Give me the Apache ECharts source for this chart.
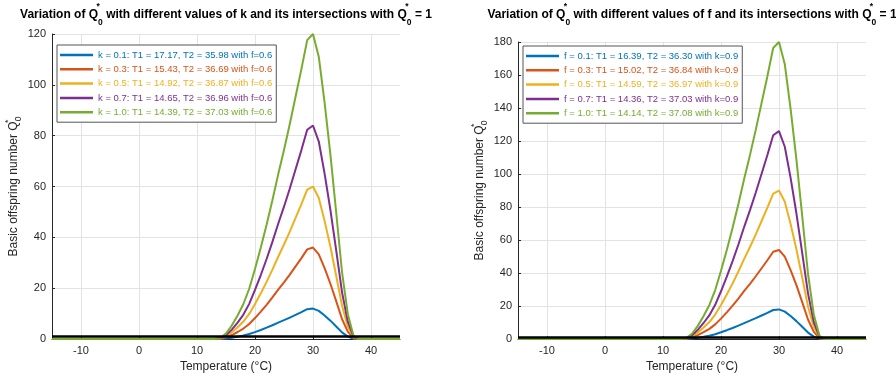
<!DOCTYPE html>
<html>
<head>
<meta charset="utf-8">
<script src="https://cdn.jsdelivr.net/npm/echarts@6/dist/echarts.min.js"></script>
<style>
html, body { margin: 0; padding: 0; background: #fff; }
#chart { width: 896px; height: 378px; }
</style>
</head>
<body>
<div id="chart"></div>
<script>
var temps = [-15, 13, 14, 15, 16, 17, 18, 19, 20, 21, 22, 23, 24, 25, 26, 27, 28, 29, 30, 31, 32, 33, 34, 35, 36, 37, 38, 45];

// left panel: varying k, f = 0.6
var kNames = [
    'k = 0.1: T1 = 17.17, T2 = 35.98 with f=0.6',
    'k = 0.3: T1 = 15.43, T2 = 36.69 with f=0.6',
    'k = 0.5: T1 = 14.92, T2 = 36.87 with f=0.6',
    'k = 0.7: T1 = 14.65, T2 = 36.96 with f=0.6',
    'k = 1.0: T1 = 14.39, T2 = 37.03 with f=0.6'
];
var qK01 = [0, 0, 0.04, 0.22, 0.53, 0.93, 1.38, 1.98, 2.76, 3.6, 4.5, 5.46, 6.48, 7.44, 8.46, 9.54, 10.62, 11.76, 12.0, 11.1, 9.3, 7.26, 4.98, 2.64, 0.98, 0.12, 0, 0];
var qK03 = [0, 0, 0.13, 0.65, 1.6, 2.79, 4.14, 5.94, 8.28, 10.8, 13.5, 16.38, 19.44, 22.32, 25.38, 28.62, 31.86, 35.28, 36.0, 33.3, 27.9, 21.78, 14.94, 7.92, 2.93, 0.36, 0, 0];
var qK05 = [0, 0, 0.21, 1.08, 2.67, 4.65, 6.9, 9.9, 13.8, 18, 22.5, 27.3, 32.4, 37.2, 42.3, 47.7, 53.1, 58.8, 60, 55.5, 46.5, 36.3, 24.9, 13.2, 4.89, 0.6, 0, 0];
var qK07 = [0, 0, 0.29, 1.51, 3.74, 6.51, 9.66, 13.86, 19.32, 25.2, 31.5, 38.22, 45.36, 52.08, 59.22, 66.78, 74.34, 82.32, 84, 77.7, 65.1, 50.82, 34.86, 18.48, 6.85, 0.84, 0, 0];
var qK10 = [0, 0, 0.42, 2.16, 5.34, 9.3, 13.8, 19.8, 27.6, 36, 45, 54.6, 64.8, 74.4, 84.6, 95.4, 106.2, 117.6, 120, 111, 93, 72.6, 49.8, 26.4, 9.78, 1.2, 0, 0];

// right panel: varying f, k = 0.9
var fNames = [
    'f = 0.1: T1 = 16.39, T2 = 36.30 with k=0.9',
    'f = 0.3: T1 = 15.02, T2 = 36.84 with k=0.9',
    'f = 0.5: T1 = 14.59, T2 = 36.97 with k=0.9',
    'f = 0.7: T1 = 14.36, T2 = 37.03 with k=0.9',
    'f = 1.0: T1 = 14.14, T2 = 37.08 with k=0.9'
];
var qF01 = [0, 0, 0.06, 0.32, 0.8, 1.4, 2.07, 2.97, 4.14, 5.4, 6.75, 8.19, 9.72, 11.16, 12.69, 14.31, 15.93, 17.64, 18, 16.65, 13.95, 10.89, 7.47, 3.96, 1.47, 0.18, 0, 0];
var qF03 = [0, 0, 0.19, 0.97, 2.4, 4.19, 6.21, 8.91, 12.42, 16.2, 20.25, 24.57, 29.16, 33.48, 38.07, 42.93, 47.79, 52.92, 54, 49.95, 41.85, 32.67, 22.41, 11.88, 4.4, 0.54, 0, 0];
var qF05 = [0, 0, 0.32, 1.62, 4.0, 6.98, 10.35, 14.85, 20.7, 27, 33.75, 40.95, 48.6, 55.8, 63.45, 71.55, 79.65, 88.2, 90, 83.25, 69.75, 54.45, 37.35, 19.8, 7.34, 0.9, 0, 0];
var qF07 = [0, 0, 0.44, 2.27, 5.61, 9.77, 14.49, 20.79, 28.98, 37.8, 47.25, 57.33, 68.04, 78.12, 88.83, 100.17, 111.51, 123.48, 126, 116.55, 97.65, 76.23, 52.29, 27.72, 10.27, 1.26, 0, 0];
var qF10 = [0, 0, 0.63, 3.24, 8.01, 13.95, 20.7, 29.7, 41.4, 54, 67.5, 81.9, 97.2, 111.6, 126.9, 143.1, 159.3, 176.4, 180, 166.5, 139.5, 108.9, 74.7, 39.6, 14.67, 1.8, 0, 0];

// threshold line Q0* = 1
var threshX = [-15, 45];
var threshY = [1, 1];

var xTicks = [-10, 0, 10, 20, 30, 40];
var colors = ['#0072BD', '#D95319', '#EDB120', '#7E2F8E', '#77AC30'];

var FONT = '"Liberation Sans", Arial, sans-serif';
var AX = '#262626';

function pairs(xs, ys) {
    return xs.map(function (x, i) { return [x, ys[i]]; });
}

var titleRich = {
    sup: { fontSize: 8.5, fontWeight: 'bold', fontFamily: FONT, lineHeight: 21, verticalAlign: 'top', width: 0, color: '#000' },
    sub: { fontSize: 8.5, fontWeight: 'bold', fontFamily: FONT, lineHeight: 8, verticalAlign: 'bottom', color: '#000' }
};
var nameRich = {
    sup: { fontSize: 8.5, fontFamily: FONT, lineHeight: 10, verticalAlign: 'top', width: 0, color: AX },
    sub: { fontSize: 8.5, fontFamily: FONT, lineHeight: 8, verticalAlign: 'bottom', color: AX }
};

function makeTitle(cx, letter) {
    return {
        text: 'Variation of Q{sup|*}{sub|0} with different values of ' + letter +
            ' and its intersections with Q{sup|*}{sub|0} = 1',
        left: cx,
        top: 2,
        padding: 0,
        textAlign: 'center',
        textStyle: {
            fontSize: 12,
            fontWeight: 'bold',
            fontFamily: FONT,
            color: '#000',
            lineHeight: 25,
            rich: titleRich
        }
    };
}

function makeX(idx) {
    return {
        type: 'value',
        gridIndex: idx,
        min: -15,
        max: 45,
        name: 'Temperature (°C)',
        nameLocation: 'middle',
        nameGap: 21,
        nameTextStyle: { fontSize: 12, fontFamily: FONT, color: AX },
        axisLine: { show: true, onZero: false, lineStyle: { color: AX, width: 1 } },
        axisTick: { show: true, inside: true, length: 3, customValues: xTicks, lineStyle: { color: AX } },
        axisLabel: { customValues: xTicks, fontSize: 11, fontFamily: FONT, color: AX, margin: 6 },
        splitLine: { show: true, lineStyle: { color: '#e3e3e3', width: 1 } }
    };
}

function makeY(idx, max) {
    return {
        type: 'value',
        gridIndex: idx,
        min: 0,
        max: max,
        interval: 20,
        name: 'Basic offspring number Q{sup|*}{sub|0}',
        nameLocation: 'middle',
        nameGap: 29,
        nameTextStyle: { fontSize: 12, fontFamily: FONT, color: AX, lineHeight: 19, rich: nameRich },
        axisLine: { show: true, onZero: false, lineStyle: { color: AX, width: 1 } },
        axisTick: { show: true, inside: true, length: 3, lineStyle: { color: AX } },
        axisLabel: { fontSize: 11, fontFamily: FONT, color: AX, margin: 6 },
        splitLine: { show: true, lineStyle: { color: '#e3e3e3', width: 1 } }
    };
}

function makeLegend(names, left, top) {
    return {
        orient: 'vertical',
        left: left,
        top: top,
        padding: [4, 4, 4, 3],
        itemGap: 2.3,
        itemWidth: 33,
        itemHeight: 2.5,
        itemTextGap: 5,
        icon: 'rect',
        selectedMode: false,
        backgroundColor: '#fff',
        borderColor: '#555',
        borderWidth: 1,
        borderRadius: 0,
        textStyle: { fontSize: 9.5, fontFamily: FONT, lineHeight: 12 },
        data: names.map(function (n, i) {
            return { name: n, textStyle: { color: colors[i] } };
        })
    };
}

function curve(name, ys, idx, i) {
    return {
        name: name,
        type: 'line',
        xAxisIndex: idx,
        yAxisIndex: idx,
        data: pairs(temps, ys),
        showSymbol: false,
        symbol: 'none',
        color: colors[i],
        lineStyle: { width: 2, color: colors[i] },
        animation: false,
        z: 2 + i
    };
}

function threshold(idx) {
    return {
        type: 'line',
        xAxisIndex: idx,
        yAxisIndex: idx,
        data: pairs(threshX, threshY),
        showSymbol: false,
        symbol: 'none',
        lineStyle: { width: 2.5, color: '#000' },
        animation: false,
        z: 10
    };
}

var kSeries = [qK01, qK03, qK05, qK07, qK10];
var fSeries = [qF01, qF03, qF05, qF07, qF10];

var series = [];
kSeries.forEach(function (ys, i) { series.push(curve(kNames[i], ys, 0, i)); });
series.push(threshold(0));
fSeries.forEach(function (ys, i) { series.push(curve(fNames[i], ys, 1, i)); });
series.push(threshold(1));

var chart = echarts.init(document.getElementById('chart'), null, { renderer: 'canvas' });
chart.setOption({
    animation: false,
    backgroundColor: '#fff',
    title: [makeTitle(226, 'k'), makeTitle(692, 'f')],
    legend: [makeLegend(kNames, 57, 45), makeLegend(fNames, 523, 46)],
    grid: [
        { left: 52, top: 34, width: 348, height: 306 },
        { left: 518, top: 42, width: 348, height: 298 }
    ],
    xAxis: [makeX(0), makeX(1)],
    yAxis: [makeY(0, 120), makeY(1, 180)],
    series: series
});
</script>
</body>
</html>
